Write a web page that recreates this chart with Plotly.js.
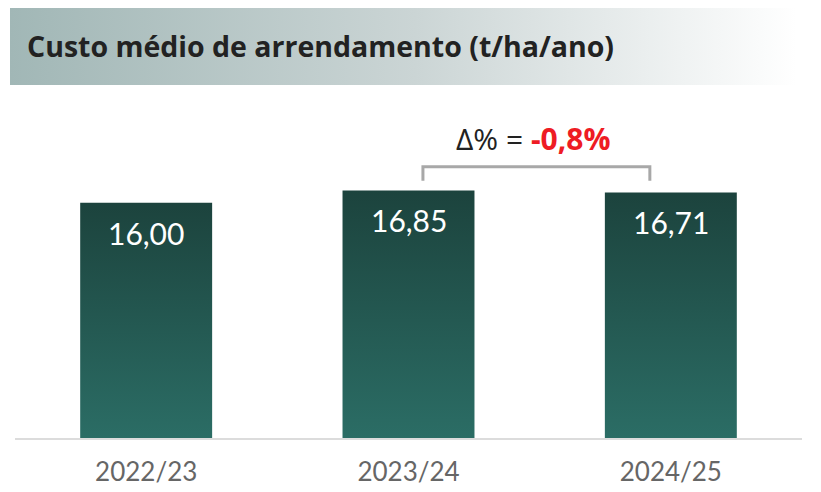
<!DOCTYPE html>
<html>
<head>
<meta charset="utf-8">
<script src="https://cdn.plot.ly/plotly-3.0.1.min.js"></script>
<style>
html,body{margin:0;padding:0;background:#fff;}
#chart{width:821px;height:492px;}
</style>
</head>
<body>
<div id="chart"></div>
<script>
// ---- data ----
const categories = ["2022/23", "2023/24", "2024/25"];
const values = [16.00, 16.85, 16.71];
const chartTitle = "Custo médio de arrendamento (t/ha/ano)";

function fmt(v, d) { return v.toFixed(d).replace('.', ','); }
const deltaPct = (values[2] / values[1] - 1) * 100;

const bar = {
  type: 'bar',
  x: categories,
  y: values,
  marker: { color: '#24574f', line: { width: 0 } },
  hoverinfo: 'skip'
};

const valueAnnotations = categories.map((c, i) => ({
  x: c, y: values[i], xref: 'x', yref: 'y',
  text: fmt(values[i], 2),
  showarrow: false, yanchor: 'middle', yshift: -30,
  font: { family: 'Lato, sans-serif', size: 30, color: '#ffffff' }
}));

const layout = {
  width: 821, height: 492,
  margin: { l: 15, r: 19, t: 100, b: 54 },
  paper_bgcolor: '#ffffff', plot_bgcolor: '#ffffff',
  showlegend: false,
  bargap: 0.497,
  title: {
    text: '<b>' + chartTitle + '</b>',
    x: 27 / 821, xanchor: 'left', xref: 'container',
    y: 1 - 47 / 492, yanchor: 'middle', yref: 'container',
    font: { family: '"Open Sans", sans-serif', size: 28.5, color: '#222222' }
  },
  xaxis: {
    type: 'category',
    showgrid: false, zeroline: false,
    showline: true, linecolor: '#dcdcdc', linewidth: 2,
    ticks: '', ticklabelstandoff: 10,
    tickfont: { family: 'Lato, sans-serif', size: 26, color: '#666666' }
  },
  yaxis: {
    range: [0, 23], visible: false, showgrid: false, zeroline: false
  },
  shapes: [
    {
      type: 'rect', xref: 'paper', yref: 'paper', layer: 'below',
      x0: (10 - 15) / 787, x1: (821 - 15) / 787,
      y0: (438 - 85) / 338, y1: (438 - 8) / 338,
      fillcolor: '#b8c8c7', line: { width: 0 }, name: 'banner'
    },
    {
      type: 'path', xref: 'x', yref: 'y', layer: 'above',
      path: 'M 1.055,17.5 L 1.055,18.45 L 1.92,18.45 L 1.92,17.5',
      line: { color: '#a8a8a8', width: 3 }
    }
  ],
  annotations: valueAnnotations.concat([
    {
      x: 1.474, y: 20.4, xref: 'x', yref: 'y', showarrow: false,
      xanchor: 'center', yanchor: 'middle',
      text: 'Δ% = <b><span style="color:#ee1c24">' + fmt(deltaPct, 1) + '%</span></b>',
      font: { family: '"Open Sans", sans-serif', size: 30, color: '#222222' }
    }
  ])
};

Plotly.newPlot('chart', [bar], layout, { displayModeBar: false, staticPlot: true }).then(() => {
  const svg = document.querySelector('#chart .main-svg');
  const ns = 'http://www.w3.org/2000/svg';
  let defs = svg.querySelector('defs');
  if (!defs) { defs = document.createElementNS(ns, 'defs'); svg.insertBefore(defs, svg.firstChild); }
  function grad(id, x2, y2, stops) {
    const g = document.createElementNS(ns, 'linearGradient');
    g.setAttribute('id', id);
    g.setAttribute('x1', '0'); g.setAttribute('y1', '0');
    g.setAttribute('x2', x2); g.setAttribute('y2', y2);
    stops.forEach(s => {
      const st = document.createElementNS(ns, 'stop');
      st.setAttribute('offset', s[0]); st.setAttribute('stop-color', s[1]);
      g.appendChild(st);
    });
    defs.appendChild(g);
  }
  grad('barGrad', '0', '1', [['0', '#1c433d'], ['1', '#2b6d65']]);
  grad('bannerGrad', '1', '0', [['0', '#a1b7b6'], ['0.5', '#cbd5d5'], ['0.97', '#ffffff'], ['1', '#ffffff']]);
  document.querySelectorAll('#chart .barlayer .point path').forEach(p => {
    p.style.fill = 'url(#barGrad)';
  });
  const bannerPath = document.querySelector('#chart .layer-below .shapelayer path');
  if (bannerPath) bannerPath.style.fill = 'url(#bannerGrad)';
});
</script>
</body>
</html>
